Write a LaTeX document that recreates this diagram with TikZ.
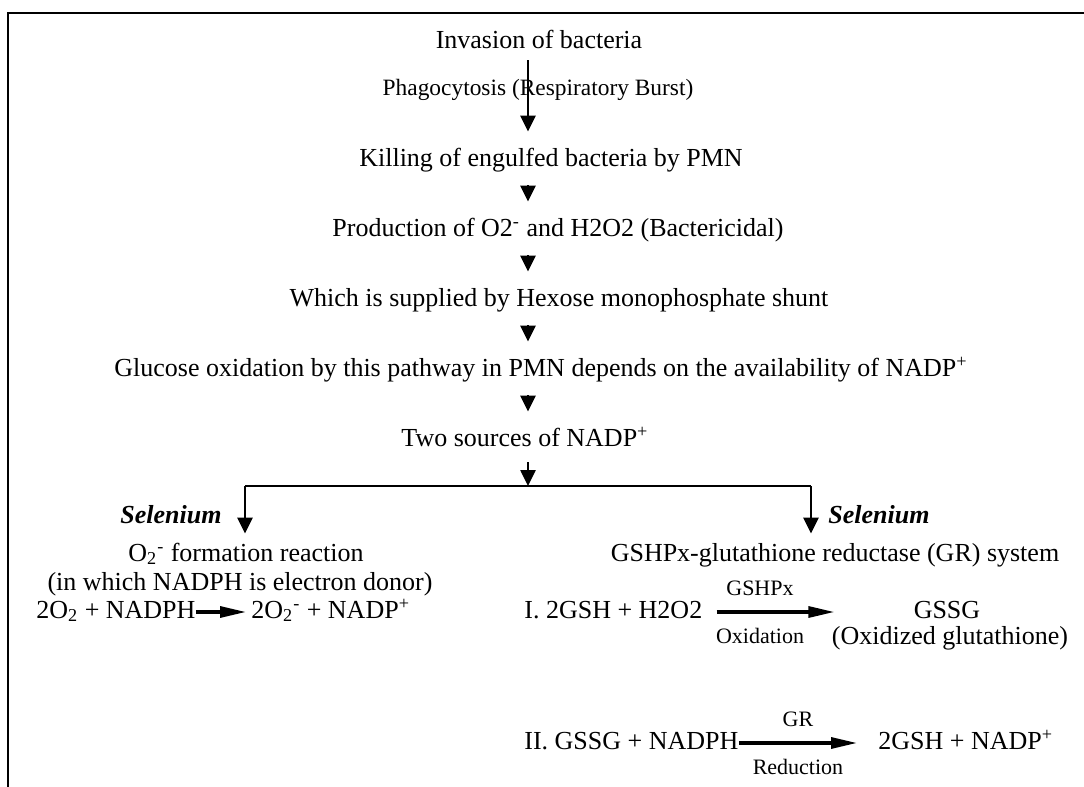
\documentclass[tikz,border=0pt]{standalone}
\usepackage{fontspec}
\setmainfont{Liberation Serif}
\usepackage{tikz}
\usetikzlibrary{positioning, calc, arrows.meta}

\begin{document}
\begin{tikzpicture}[
  x=0.5pt, y=-0.5pt,
  txt/.style={inner sep=0pt, text height=9pt, text depth=3pt,
              font=\fontsize{13}{15}\selectfont},
  lbl/.style={inner sep=0pt, font=\fontsize{11}{13}\selectfont},
  sel/.style={inner sep=0pt, font=\fontsize{13}{15}\selectfont\bfseries\itshape},
  down/.style={-{Triangle[length=8pt, width=7.5pt]}, line width=1.3pt},
  rxn/.style={-{Triangle[length=13pt, width=5.5pt]}, line width=1.6pt}
]
  \useasboundingbox (0,0) rectangle (1084,787);
  \draw[line width=1.2pt] (8,787) -- (8,13) -- (1084,13);

  \node[txt] (inv) at (539,42) {Invasion of bacteria};
  \node[txt, font=\fontsize{11.7}{14}\selectfont] (pha) at (538,89) {Phagocytosis (Respiratory Burst)};
  \node[txt] (kil) at (551,160) {Killing of engulfed bacteria by PMN};
  \node[txt] (pro) at (558,230) {Production of O2\textsuperscript{-} and H2O2 (Bactericidal)};
  \node[txt] (whi) at (559,300) {Which is supplied by Hexose monophosphate shunt};
  \node[txt] (glu) at (541,370) {Glucose oxidation by this pathway in PMN depends on the availability of NADP\textsuperscript{+}};
  \node[txt] (two) at (525,440) {Two sources of NADP\textsuperscript{+}};

  \coordinate (spine) at (528,0);
  \coordinate (fork) at (528,486);
  \coordinate (bl) at (245,486);
  \coordinate (br) at (811,486);

  \draw[down, shorten <=3pt, shorten >=8pt] (inv.south -| spine) -- (kil.north -| spine);
  \draw[down, shorten <=6.5pt, shorten >=8pt] (kil.south -| spine) -- (pro.north -| spine);
  \draw[down, shorten <=6.5pt, shorten >=8pt] (pro.south -| spine) -- (whi.north -| spine);
  \draw[down, shorten <=6.5pt, shorten >=8pt] (whi.south -| spine) -- (glu.north -| spine);
  \draw[down, shorten <=6.5pt, shorten >=8pt] (glu.south -| spine) -- (two.north -| spine);
  \draw[down, shorten <=5pt] (two.south -| spine) -- (fork);

  \draw[line width=1pt] (bl) -- (br);

  \node[sel, anchor=east] (sel1) at (222,515) {Selenium};
  \node[sel, anchor=west] (sel2) at (828,515) {Selenium};

  \node[txt] (o2f) at (246,555) {O\textsubscript{2}\textsuperscript{-} formation reaction};
  \node[txt] (don) at (240,584) {(in which NADPH is electron donor)};
  \node[txt] (sys) at (835,555) {GSHPx-glutathione reductase (GR) system};

  \draw[down, shorten >=4.5pt] (bl) -- (bl |- o2f.north);
  \draw[down, shorten >=4.5pt] (br) -- (br |- sys.north);

  \node[txt, anchor=west] (lhs) at (36,612) {2O\textsubscript{2} + NADPH};
  \node[txt, anchor=west] (rhs) at (251,612) {2O\textsubscript{2}\textsuperscript{-} + NADP\textsuperscript{+}};
  \draw[rxn, shorten >=2.5pt] (lhs.east) -- (rhs.west);

  \node[txt, anchor=west] (ra) at (524,612) {I. 2GSH + H2O2};
  \node[txt] (gssg) at (947,612) {GSSG};
  \node[txt] (oxg) at (950,638) {(Oxidized glutathione)};
  \draw[rxn, shorten <=7pt, shorten >=39.5pt] (ra.east) -- (gssg.west);
  \node[lbl] (gpx) at (760,588) {GSHPx};
  \node[lbl] (oxi) at (760,636) {Oxidation};

  \node[txt, anchor=west] (rb) at (524,743) {II. GSSG + NADPH};
  \node[txt, anchor=west] (rbr) at (878,743) {2GSH + NADP\textsuperscript{+}};
  \draw[rxn, shorten >=10.5pt] (rb.east) -- (rbr.west);
  \node[lbl] (grl) at (798,719) {GR};
  \node[lbl] (red) at (798,767) {Reduction};
\end{tikzpicture}
\end{document}
